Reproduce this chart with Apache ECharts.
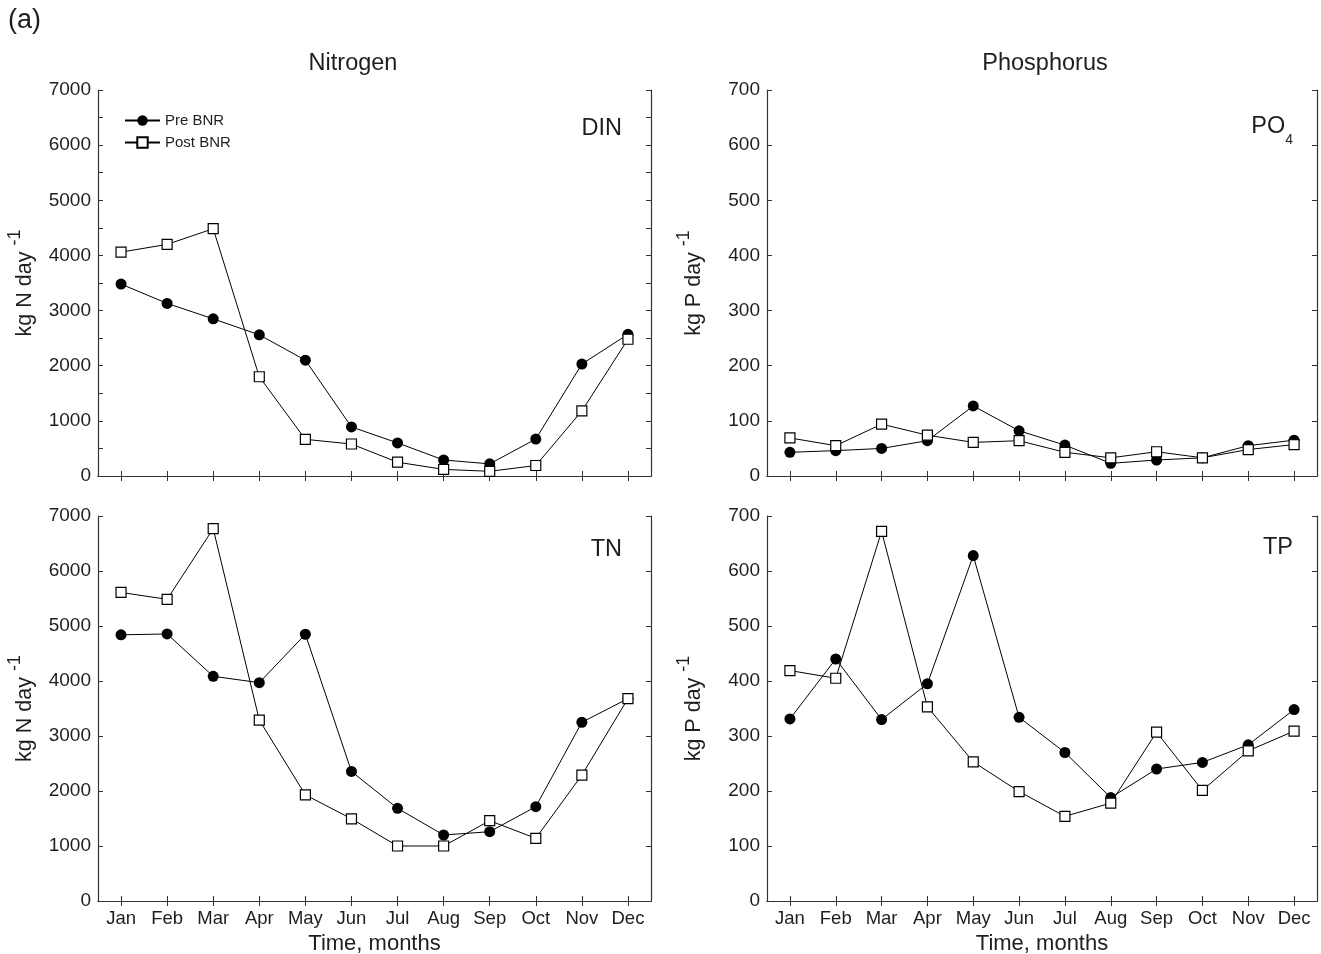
<!DOCTYPE html>
<html>
<head>
<meta charset="utf-8">
<script src="https://cdn.jsdelivr.net/npm/echarts@6/dist/echarts.min.js"></script>
<style>html,body{margin:0;padding:0;background:#fff;}#c{width:1321px;height:954px;}</style>
</head>
<body>
<div id="c"></div>
<script>
const months = ['Jan','Feb','Mar','Apr','May','Jun','Jul','Aug','Sep','Oct','Nov','Dec'];
const seriesNames = ['Pre BNR','Post BNR'];
const dinPre  = [3480, 3130, 2850, 2560, 2100, 890, 600, 290, 220, 670, 2030, 2570];
const dinPost = [4060, 4200, 4485, 1800, 665, 580, 250, 120, 85, 190, 1180, 2480];
const po4Pre  = [43, 46, 50, 64, 127, 82, 56, 23, 29, 33, 55, 65];
const po4Post = [69, 55, 94, 74, 61, 64, 43, 33, 44, 33, 48, 57];
const tnPre   = [4840, 4855, 4085, 3970, 4850, 2355, 1685, 1200, 1260, 1715, 3250, 3680];
const tnPost  = [5610, 5485, 6770, 3290, 1930, 1495, 1000, 1000, 1460, 1140, 2290, 3680];
const tpPre   = [331, 440, 330, 395, 628, 334, 270, 188, 240, 252, 284, 348];
const tpPost  = [419, 405, 672, 353, 253, 199, 154, 178, 307, 201, 273, 309];

const FONT = '"Liberation Sans", Arial, Helvetica, sans-serif';
const TXT = '#1e1e1e';
const AX = '#333';

const panels = [
  {grid:{left:98, top:90, width:553, height:386}, pre:dinPre, post:dinPost, max:7000, interval:1000, minor:true,  xlabels:false, yname:'kg N day ', label:'DIN'},
  {grid:{left:767, top:90, width:550, height:386}, pre:po4Pre, post:po4Post, max:700, interval:100, minor:false, xlabels:false, yname:'kg P day ', label:'PO4'},
  {grid:{left:98, top:516, width:553, height:385}, pre:tnPre, post:tnPost, max:7000, interval:1000, minor:false, xlabels:true, yname:'kg N day ', label:'TN'},
  {grid:{left:767, top:516, width:550, height:385}, pre:tpPre, post:tpPost, max:700, interval:100, minor:false, xlabels:true, yname:'kg P day ', label:'TP'}
];

const grids = [], xAxes = [], yAxes = [], series = [];
panels.forEach((p, i) => {
  grids.push(Object.assign({outerBoundsMode:'none', containLabel:false}, p.grid));
  const tick = {show:true, inside:true, length:5, alignWithLabel:true, lineStyle:{color:AX, width:1}};
  xAxes.push({
    type:'category', gridIndex:i, data:months, boundaryGap:true, position:'bottom',
    axisLine:{lineStyle:{color:AX, width:1.2}}, axisTick:tick,
    axisLabel:{show:p.xlabels, color:TXT, fontSize:18.5, fontFamily:FONT, margin:8},
    name: p.xlabels ? 'Time, months' : '', nameLocation:'middle', nameGap:32,
    nameTextStyle:{color:TXT, fontSize:22, fontFamily:FONT}
  });
  xAxes.push({
    type:'category', gridIndex:i, data:months, boundaryGap:true, position:'top',
    axisLine:{lineStyle:{color:AX, width:1.2}}, axisTick:tick, axisLabel:{show:false}
  });
  const ytick = {show:true, inside:true, length:5, lineStyle:{color:AX, width:1}};
  const minorTick = {show:p.minor, splitNumber:2, length:5, lineStyle:{color:AX, width:1}};
  yAxes.push({
    type:'value', gridIndex:i, min:0, max:p.max, interval:p.interval, position:'left',
    axisLine:{show:true, lineStyle:{color:AX, width:1.2}}, axisTick:ytick, minorTick:minorTick,
    splitLine:{show:false},
    axisLabel:{color:TXT, fontSize:19, fontFamily:FONT, margin:7, formatter:v => String(v)},
    name:'{n|' + p.yname + '}{s|-1}', nameLocation:'middle', nameGap:62, nameRotate:90,
    nameTextStyle:{color:TXT, fontFamily:FONT, rich:{
      n:{fontSize:21.5, fontFamily:FONT, color:TXT, lineHeight:30, verticalAlign:'bottom'},
      s:{fontSize:18, fontFamily:FONT, color:TXT, lineHeight:30, verticalAlign:'top'}
    }}
  });
  yAxes.push({
    type:'value', gridIndex:i, min:0, max:p.max, interval:p.interval, position:'right',
    axisLine:{show:true, lineStyle:{color:AX, width:1.2}}, axisTick:ytick, minorTick:minorTick,
    splitLine:{show:false}, axisLabel:{show:false}
  });
  series.push({
    name:seriesNames[0], type:'line', xAxisIndex:2*i, yAxisIndex:2*i, data:p.pre,
    symbol:'circle', symbolSize:11, itemStyle:{color:'#000'}, lineStyle:{color:'#000', width:1},
    z:2
  });
  series.push({
    name:seriesNames[1], type:'line', xAxisIndex:2*i, yAxisIndex:2*i, data:p.post,
    symbol:'rect', symbolSize:10, itemStyle:{color:'#fff', borderColor:'#000', borderWidth:1.2},
    lineStyle:{color:'#000', width:1}, z:3
  });
});

const option = {
  backgroundColor:'#fff',
  animation:false,
  grid:grids, xAxis:xAxes, yAxis:yAxes, series:series,
  legend:{
    data:seriesNames, orient:'vertical', left:119, top:108, itemWidth:35, itemHeight:13, itemGap:7,
    textStyle:{color:TXT, fontSize:15, fontFamily:FONT}, selectedMode:false
  },
  graphic:[
    {type:'text', left:8, top:7, style:{text:'(a)', fontSize:27, fontFamily:FONT, fill:TXT}},
    {type:'text', x:353, y:64, style:{text:'Nitrogen', fontSize:23.5, fontFamily:FONT, fill:TXT, align:'center', verticalAlign:'middle'}},
    {type:'text', x:1045, y:64, style:{text:'Phosphorus', fontSize:23.5, fontFamily:FONT, fill:TXT, align:'center', verticalAlign:'middle'}},
    {type:'text', x:622, y:129, style:{text:'DIN', fontSize:23.5, fontFamily:FONT, fill:TXT, align:'right', verticalAlign:'middle'}},
    {type:'text', x:622, y:550, style:{text:'TN', fontSize:23.5, fontFamily:FONT, fill:TXT, align:'right', verticalAlign:'middle'}},
    {type:'text', x:1293, y:548, style:{text:'TP', fontSize:23.5, fontFamily:FONT, fill:TXT, align:'right', verticalAlign:'middle'}},
    {type:'text', x:1293, y:131, style:{text:'{a|PO}{b|4}', fontFamily:FONT, fill:TXT, align:'right', verticalAlign:'middle',
      rich:{a:{fontSize:23.5, fontFamily:FONT, fill:TXT, lineHeight:32, verticalAlign:'top'}, b:{fontSize:14, fontFamily:FONT, fill:TXT, lineHeight:32, verticalAlign:'bottom'}}}}
  ]
};
echarts.init(document.getElementById('c'), null, {renderer:'canvas'}).setOption(option);
</script>
</body>
</html>
